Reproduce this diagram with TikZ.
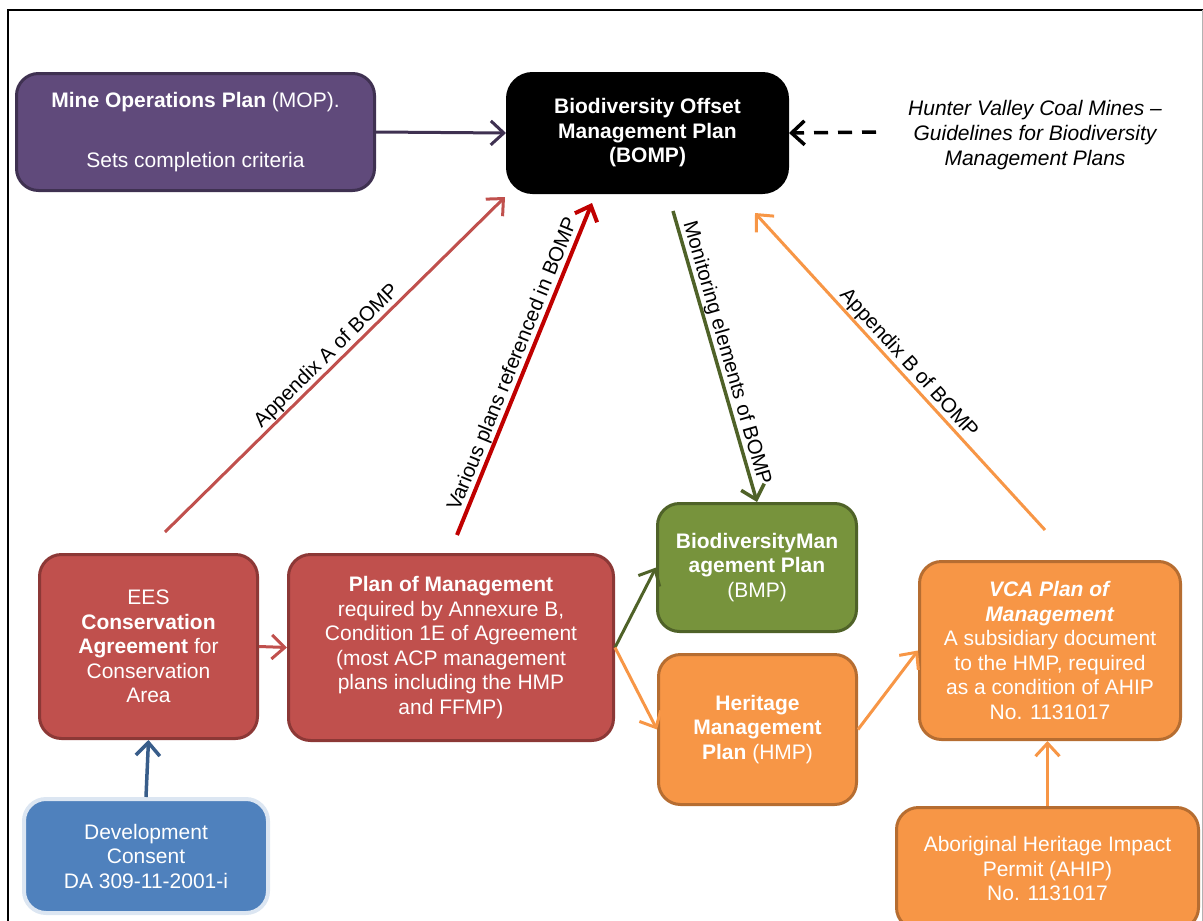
\documentclass[tikz,border=0pt]{standalone}
\usepackage{fontspec}
\setmainfont{Liberation Sans}
\usetikzlibrary{arrows.meta}
\usetikzlibrary{calc}

\definecolor{mopFill}{HTML}{604A7B}
\definecolor{mopEdge}{HTML}{3F3151}
\definecolor{eesFill}{HTML}{C0504D}
\definecolor{eesEdge}{HTML}{8C3836}
\definecolor{planRed}{HTML}{C00000}
\definecolor{bmpFill}{HTML}{77933C}
\definecolor{bmpEdge}{HTML}{4F6228}
\definecolor{hmpFill}{HTML}{F79646}
\definecolor{hmpEdge}{HTML}{B66D31}
\definecolor{devFill}{HTML}{4F81BD}
\definecolor{devEdge}{HTML}{DCE6F2}
\definecolor{devArrow}{HTML}{385D8A}

\tikzset{
	planBox/.style={rounded corners=22pt, line width=3pt, align=center, text=white, inner sep=4pt, font=\fontsize{21}{24.5}\selectfont},
	flowArrow/.style={line width=3pt, -{Straight Barb[length=13pt,width=24pt]}},
	arrowLabel/.style={text=black, inner sep=0.5pt, font=\fontsize{20.5}{24}\selectfont},
}

\newcommand{\drawArrowSlopedAbove}[4]{
	\draw[flowArrow, #3] (#1) -- (#2) node[midway, sloped, above, arrowLabel] {#4};
}

\begin{document}
\begin{tikzpicture}[x=1pt, y=-1pt]
	\useasboundingbox (0,0) rectangle (1203,921);
	\clip (0,0) rectangle (1203,921);

	% frame
	\draw[line width=1.5pt] (8,921) -- (8,10) -- (1203,10);
	\draw[black!30, line width=1pt] (1202,10) -- (1202,921);

	% boxes
	\node[planBox, fill=mopFill, draw=mopEdge, minimum width=358pt, minimum height=117pt] (MOP) at (195.5,132) {\textbf{Mine Operations Plan} (MOP).\\[36pt]Sets completion criteria};
	\node[planBox, fill=black, draw=black, rounded corners=25pt, minimum width=280pt, minimum height=119pt] (BOMP) at (647.5,133) {\textbf{Biodiversity Offset}\\\textbf{Management Plan}\\\textbf{(BOMP)}};
	\node[align=center, font=\fontsize{21}{25}\selectfont\itshape] (HVG) at (1035,135) {Hunter Valley Coal Mines --\\Guidelines for Biodiversity\\Management Plans};
	\coordinate (HVG_S) at (876,132);

	\node[planBox, fill=eesFill, draw=eesEdge, minimum width=218pt, minimum height=184pt] (EES) at (148.5,646.5) {EES\\\textbf{Conservation}\\\textbf{Agreement} for\\Conservation\\Area};
	\node[planBox, fill=eesFill, draw=eesEdge, minimum width=325pt, minimum height=186pt] (POM) at (451,647.5) {\textbf{Plan of Management}\\required by Annexure B,\\Condition 1E of Agreement\\(most ACP management\\plans including the HMP\\and FFMP)};
	\node[planBox, fill=bmpFill, draw=bmpEdge, minimum width=199pt, minimum height=128pt] (BMP) at (757,567.5) {\textbf{BiodiversityMan}\\\textbf{agement Plan}\\(BMP)};
	\node[planBox, fill=hmpFill, draw=hmpEdge, minimum width=198pt, minimum height=150pt] (HMP) at (757.5,729.5) {\textbf{Heritage}\\\textbf{Management}\\\textbf{Plan} (HMP)};
	\node[planBox, fill=hmpFill, draw=hmpEdge, minimum width=261pt, minimum height=178pt] (VCA) at (1050,650.5) {\textbf{\textit{VCA Plan of}}\\\textbf{\textit{Management}}\\A subsidiary document\\to the HMP, required\\as a condition of AHIP\\No. 1131017};
	\node[planBox, fill=hmpFill, draw=hmpEdge, minimum width=302pt, minimum height=122pt] (AHIP) at (1047.5,868.5) {Aboriginal Heritage Impact\\Permit (AHIP)\\No. 1131017};
	\node[planBox, fill=devFill, draw=devEdge, line width=4pt, minimum width=244pt, minimum height=114pt] (DEV) at (146,856) {Development\\Consent\\DA 309-11-2001-i};

	% connectors
	\draw[flowArrow, draw=mopEdge] (MOP.east) -- (BOMP.west);
	\draw[flowArrow, dashed, dash pattern=on 14pt off 10pt, line width=3.5pt] (HVG_S) -- (BOMP.east);
	\draw[flowArrow, draw=eesFill] (EES.east) -- (POM.west);
	\draw[flowArrow, draw=bmpEdge] (POM.east) -- (BMP.west);
	\draw[flowArrow, draw=hmpFill] (POM.east) -- (HMP.west);
	\draw[flowArrow, draw=hmpFill] (HMP.east) -- (VCA.west);
	\draw[flowArrow, draw=hmpFill] (AHIP.north) -- (AHIP.north |- VCA.south);
	\draw[flowArrow, draw=devArrow, line width=3.5pt] (DEV.north) -- (EES.south);

	\drawArrowSlopedAbove{[xshift=16.5pt,yshift=21pt]EES.north}{[xshift=-1pt,yshift=-3pt]BOMP.south west}{draw=eesFill}{Appendix A of BOMP}
	\drawArrowSlopedAbove{[xshift=6pt,yshift=18pt]POM.north}{[xshift=-55.5pt,yshift=-9pt]BOMP.south}{draw=planRed, line width=4pt}{Various plans referenced in BOMP}
	\drawArrowSlopedAbove{[xshift=25.5pt,yshift=-17pt]BOMP.south}{BMP.north}{draw=bmpEdge, line width=3.5pt}{Monitoring elements of BOMP}
	\drawArrowSlopedAbove{[xshift=-5pt,yshift=30pt]VCA.north}{[xshift=107.5pt,yshift=-19pt]BOMP.south}{draw=hmpFill}{Appendix B of BOMP}

\end{tikzpicture}
\end{document}
